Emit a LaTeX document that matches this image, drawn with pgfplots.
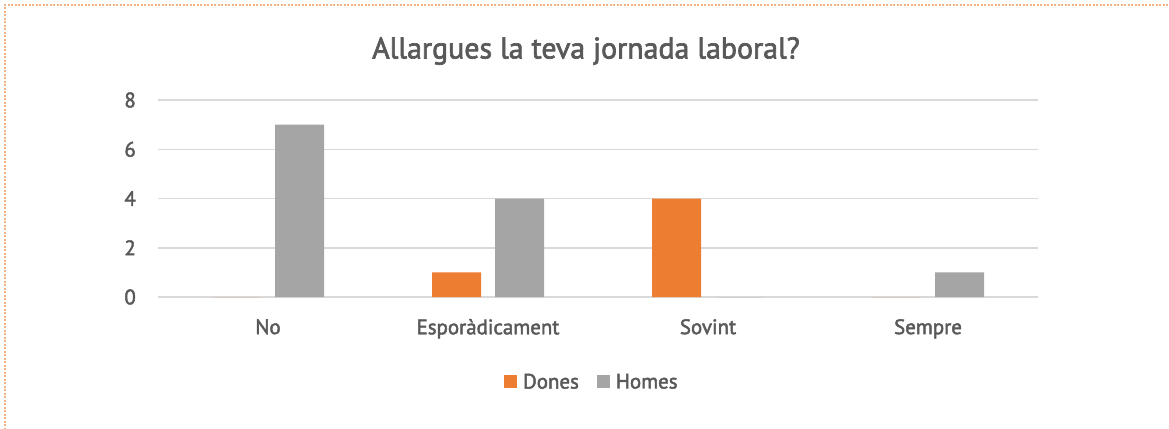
\documentclass[border=0pt]{standalone}
\usepackage{pgfplots}
\pgfplotsset{compat=1.18}
\usepackage{fontspec}
\setmainfont{PT Sans}[FakeBold=2.2, UprightFeatures={FakeBold=2.2}]
\definecolor{cOr}{HTML}{ED7D31}
\definecolor{cGr}{HTML}{A5A5A5}
\definecolor{gridc}{HTML}{D9D9D9}
\definecolor{txt}{HTML}{595959}
\definecolor{brd}{HTML}{F4B183}
\begin{document}
\begin{tikzpicture}[x=1bp,y=1bp]
\useasboundingbox (0,0) rectangle (1169,428);
\draw[brd, line width=2bp, dash pattern=on 2bp off 1.5bp] (5,-5) -- (5,423) -- (1175,423);
\begin{axis}[
  at={(158bp,131bp)}, anchor=south west,
  scale only axis, width=880bp, height=197bp,
  ymin=0, ymax=8, xmin=-0.5, xmax=3.5,
  ytick={0,2,4,6,8},
  xtick={0,1,2,3},
  xticklabels={No,Esporàdicament,Sovint,Sempre},
  ybar=14bp, bar width=49bp,
  ymajorgrids, grid style={line width=1.5bp, color=gridc},
  axis line style={draw=none},
  major tick length=0,
  /pgf/number format/assume math mode=true,
  tick label style={font=\fontsize{21}{24}\selectfont, text=txt},
  yticklabel style={anchor=east, inner sep=0pt, xshift=-22bp},
  xticklabel style={anchor=north, inner sep=0pt, yshift=-22bp},
  legend style={at={(0.493,-0.431)}, anchor=center, draw=none, fill=none,
    legend columns=-1, font=\fontsize{21}{24}\selectfont, text=txt,
    /tikz/every odd column/.append style={column sep=4bp},
    /tikz/every even column/.append style={column sep=16bp}},
  legend image code/.code={\fill[#1] (0bp,-6.5bp) rectangle (13bp,6.5bp);},
]
\addplot[fill=cOr, draw=none] coordinates {(0,0) (1,1) (2,4) (3,0)};
\addplot[fill=cGr, draw=none] coordinates {(0,7) (1,4) (2,0) (3,1)};
\legend{Dones,Homes}
\end{axis}
\node[font=\fontsize{30}{36}\selectfont, text=txt] at (586,377) {Allargues la teva jornada laboral?};
\end{tikzpicture}
\end{document}
